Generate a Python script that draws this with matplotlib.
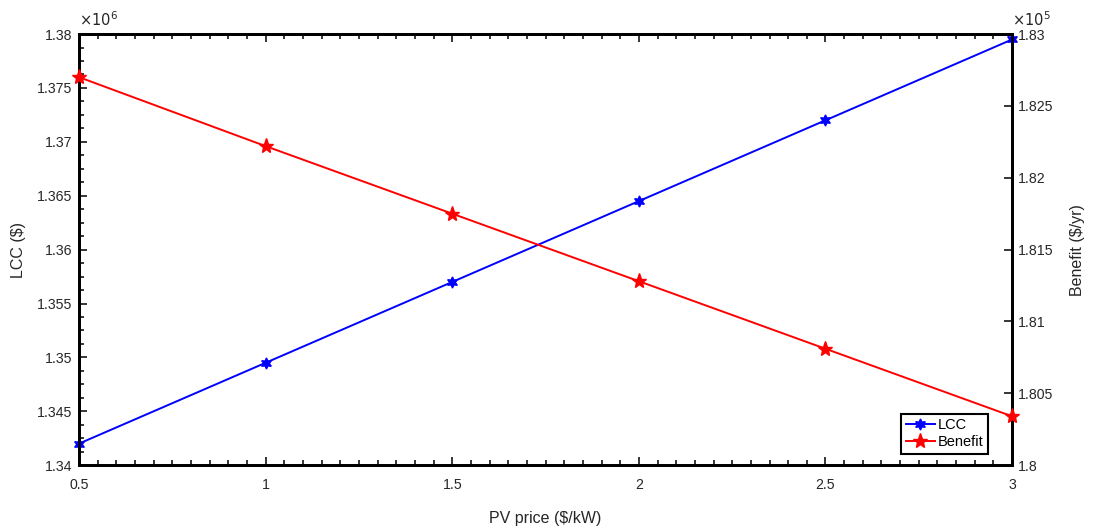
import matplotlib.pyplot as plt
from matplotlib.ticker import MultipleLocator, FormatStrFormatter

# values (LCC in 1e6 $, benefit in 1e5 $/yr)
pv_price = [0.5, 1.0, 1.5, 2.0, 2.5, 3.0]
lcc_e6 = [1.3420, 1.3495, 1.3570, 1.3645, 1.3720, 1.3795]
benefit_e5 = [1.8270, 1.8222, 1.8175, 1.8128, 1.8081, 1.8034]

plt.rcParams["font.family"] = ["Liberation Sans", "DejaVu Sans"]
plt.rcParams["font.size"] = 10.2
txt = "#262626"

fig = plt.figure(figsize=(10.93, 5.28), dpi=100)
ax = fig.add_axes([0.0723, 0.119, 0.8537, 0.8165])
ax2 = ax.twinx()

l1, = ax.plot(pv_price, lcc_e6, color="blue", lw=1.4, clip_on=False, zorder=3,
              marker=(6, 1, 0), markersize=8, label="LCC")
l2, = ax2.plot(pv_price, benefit_e5, color="red", lw=1.4, clip_on=False, zorder=3,
               marker="*", markersize=11, label="Benefit")

ax.set_xlim(0.5, 3)
ax.set_ylim(1.34, 1.38)
ax2.set_ylim(1.80, 1.83)

ax.xaxis.set_major_locator(MultipleLocator(0.5))
ax.xaxis.set_minor_locator(MultipleLocator(0.05))
ax.yaxis.set_major_locator(MultipleLocator(0.005))
ax.yaxis.set_minor_locator(MultipleLocator(0.00125))
ax2.yaxis.set_major_locator(MultipleLocator(0.005))
ax.xaxis.set_major_formatter(FormatStrFormatter("%g"))
ax.yaxis.set_major_formatter(FormatStrFormatter("%g"))
ax2.yaxis.set_major_formatter(FormatStrFormatter("%g"))

ax.tick_params(which="both", direction="in", top=True, right=False,
               colors=txt, labelcolor=txt, width=1.3)
ax.tick_params(which="major", length=6)
ax.tick_params(which="minor", length=3.5)
ax.tick_params(axis="x", which="major", pad=9)
ax.tick_params(axis="y", which="major", pad=5)
ax2.tick_params(direction="in", length=6, width=1.3, pad=4,
                colors=txt, labelcolor=txt)
for a in (ax, ax2):
    for s in a.spines.values():
        s.set_linewidth(2)
        s.set_color("black")

ax.set_xlabel("PV price (\\$/kW)", color=txt, fontsize=11.5, labelpad=14)
ax.set_ylabel("LCC (\\$)", color=txt, fontsize=11.5, labelpad=8)
ax2.set_ylabel("Benefit (\\$/yr)", color=txt, fontsize=11.5, labelpad=12)

ax.text(0.0, 1.012, r"$\times10^6$", transform=ax.transAxes, color=txt,
        fontsize=10.5, ha="left", va="bottom")
ax2.text(1.0, 1.012, r"$\times10^5$", transform=ax2.transAxes, color=txt,
         fontsize=10.5, ha="left", va="bottom")

leg = ax2.legend(handles=[l1, l2], loc="lower right", fontsize=10.5,
                 fancybox=False, framealpha=1, edgecolor="black",
                 borderpad=0.3, handlelength=2.0, handletextpad=0.2,
                 labelspacing=0.2, bbox_to_anchor=(0.982, 0.01))
leg.get_frame().set_linewidth(1.5)

fig.savefig("out.png", dpi=100)
